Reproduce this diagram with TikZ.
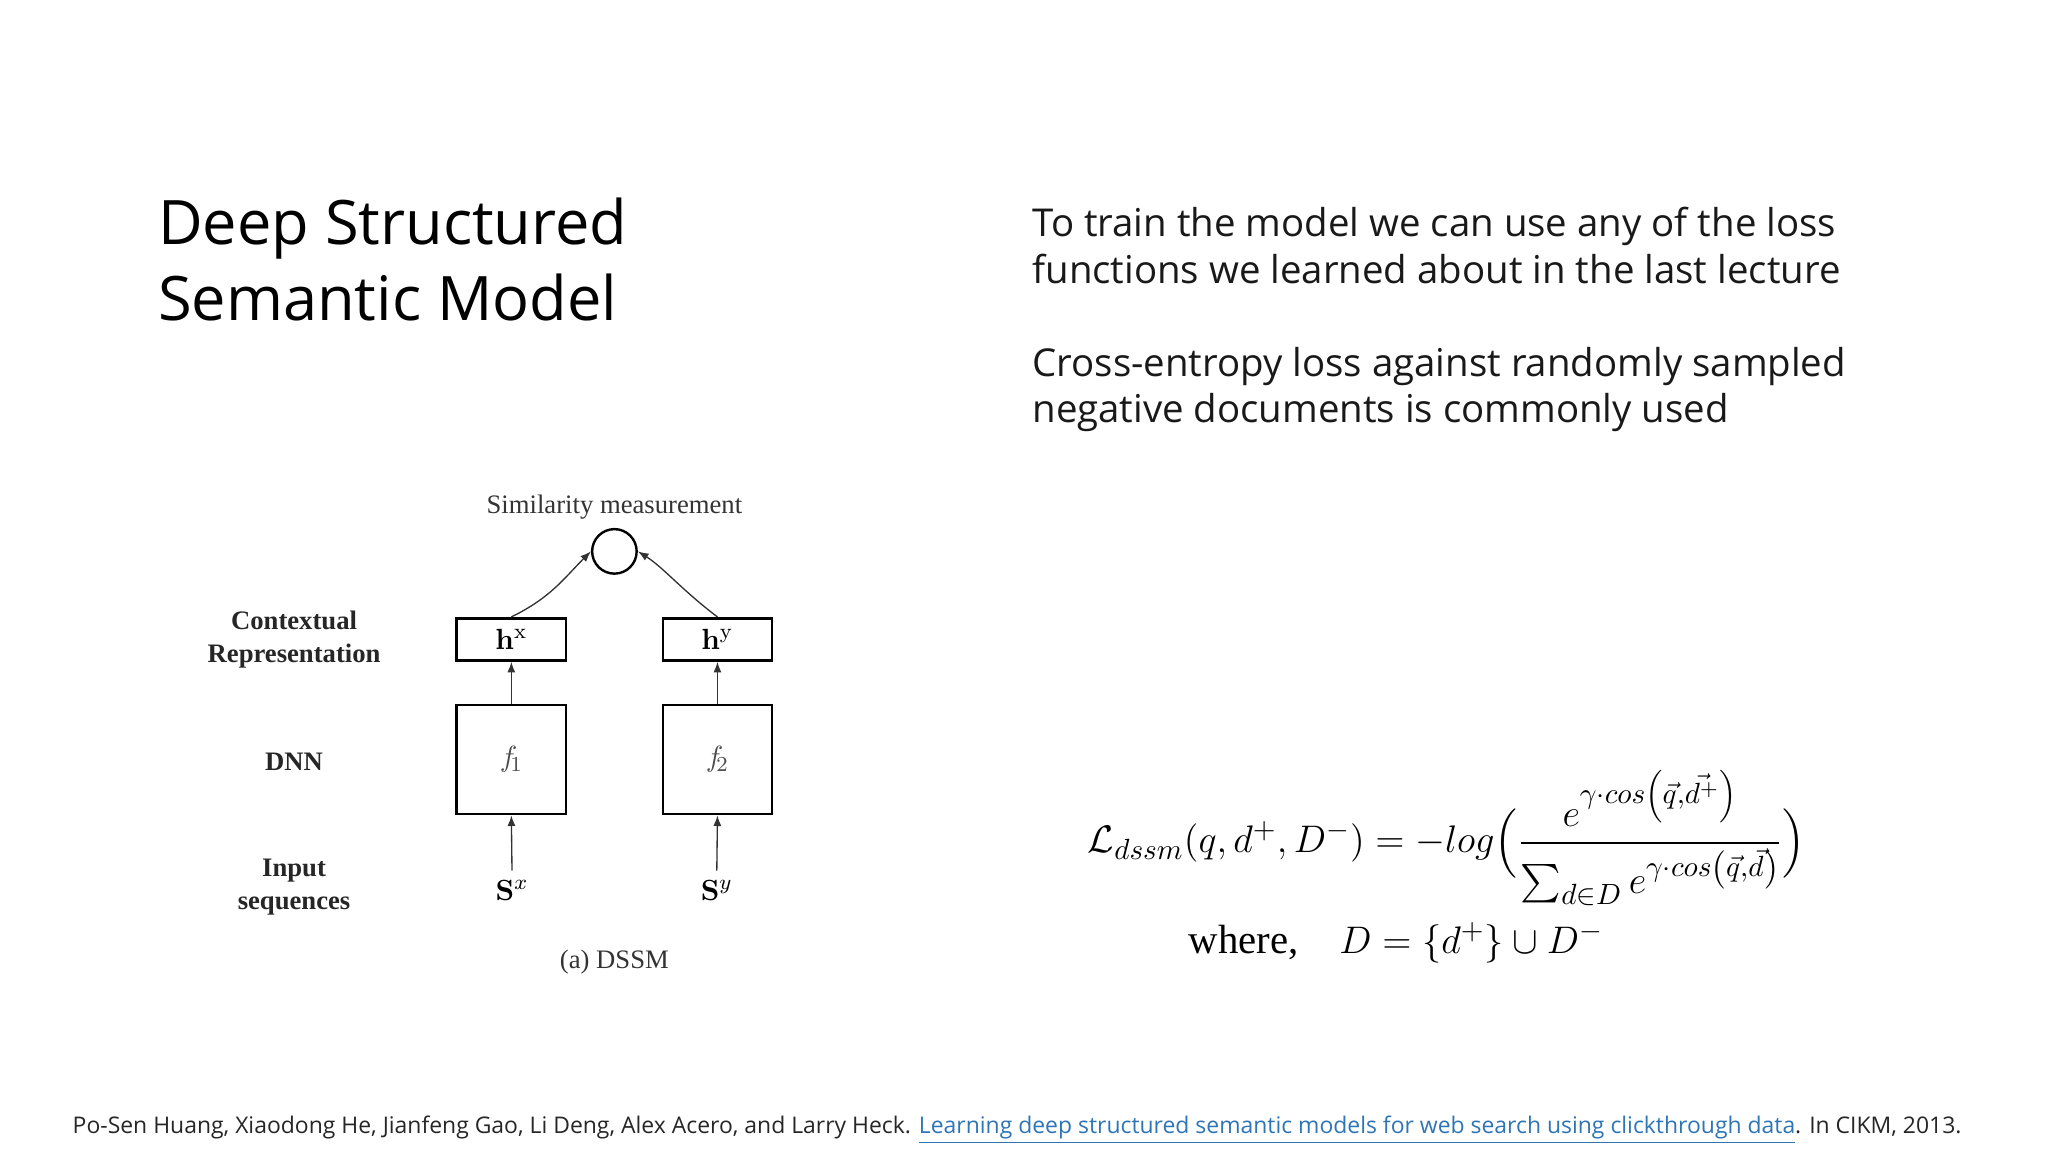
\documentclass[tikz,border=0pt]{standalone}
\usepackage{amsmath}
\usepackage[no-math]{fontspec}
\setmainfont{Open Sans}
\newfontfamily\tnr{Liberation Serif}
\usetikzlibrary{arrows.meta}
\definecolor{linkblue}{HTML}{2E75B6}
\tikzset{
  lbl/.style={font=\tnr\fontsize{10}{12.3}\selectfont\bfseries, align=center, text=black!85},
  box/.style={draw, line width=1pt, minimum width=40.9pt, inner sep=0pt},
  arr/.style={-{Latex[length=4pt,width=3pt]}, line width=0.5pt, black!80},
  body/.style={font=\fontsize{14.4}{17.3}\selectfont, anchor=west, align=left, text=black!90}
}
\begin{document}
\begin{tikzpicture}[x=0.4923pt,y=-0.4923pt]
\useasboundingbox (0,0) rectangle (1560,877.5);
% title
\node[anchor=north west, font=\fontsize{23}{28.5}\selectfont, align=left, inner sep=0pt] (title) at (120,150) {Deep Structured\\Semantic Model};
% right text
\node[body, inner sep=0pt] (t1) at (786,187) {To train the model we can use any of the loss\\functions we learned about in the last lecture};
\node[body, inner sep=0pt] (t2) at (786,297) {Cross-entropy loss against randomly sampled\\negative documents is commonly used};
% diagram
\node[font=\tnr\fontsize{10}{12}\selectfont, text=black!80] (sim) at (468,386) {Similarity measurement};
\node[draw, circle, minimum size=16.7pt, inner sep=0pt, line width=0.9pt] (c) at (468,420) {};
\node[box, minimum height=15.8pt, font=\fontsize{11}{12}\selectfont] (hx) at (389.5,487) {$\mathbf{h}^{\mathrm{x}}$};
\node[box, minimum height=15.8pt, font=\fontsize{11}{12}\selectfont] (hy) at (546.5,487) {$\mathbf{h}^{\mathrm{y}}$};
\node[box, minimum height=40.9pt, font=\fontsize{11}{12}\selectfont, text=black!70] (f1) at (389.5,578.5) {$f_{\!1}$};
\node[box, minimum height=40.9pt, font=\fontsize{11}{12}\selectfont, text=black!70] (f2) at (546.5,578.5) {$f_{\!2}$};
\node[font=\fontsize{11}{12}\selectfont] (sx) at (390,678) {$\mathbf{S}^{x}$};
\node[font=\fontsize{11}{12}\selectfont] (sy) at (546,678) {$\mathbf{S}^{y}$};
\draw[arr] (sx.north) -- (f1.south);
\draw[arr] (sy.north) -- (f2.south);
\draw[arr] (f1.north) -- (hx.south);
\draw[arr] (f2.north) -- (hy.south);
\draw[arr] (hx.north) .. controls (420,455) and (430,440) .. (c.west);
\draw[arr] (hy.north) .. controls (520,450) and (505,432) .. (c.east);
\node[lbl] (l1) at (224,487) {Contextual\\Representation};
\node[lbl] (l2) at (224,580) {DNN};
\node[lbl] (l3) at (224,676) {Input\\sequences};
\node[font=\tnr\fontsize{10}{12}\selectfont, text=black!80] (cap) at (468,733) {(a) DSSM};
% equation
\node[font=\fontsize{15.3}{18}\selectfont] (eq) at (1102,638) {$\mathcal{L}_{dssm}(q,d^{+},D^{-}) = -log\Bigl(\dfrac{e^{\gamma\cdot cos\left(\vec{q},\vec{d^{+}}\right)}}{\sum_{d\in D} e^{\gamma\cdot cos\left(\vec{q},\vec{d}\right)}}\Bigr)$};
\node[font=\fontsize{15.3}{18}\selectfont, anchor=west, inner sep=0pt] (wh) at (905,718) {{\tnr where,}\quad $D=\{d^{+}\}\cup D^{-}$};
% citation
\node[anchor=west, inner sep=0pt, font=\fontsize{8.6}{10}\selectfont, text=black!85] (cite) at (55,861) {Po-Sen Huang, Xiaodong He, Jianfeng Gao, Li Deng, Alex Acero, and Larry Heck. \textcolor{linkblue}{\underline{Learning deep structured semantic models for web search using clickthrough data}}. In CIKM, 2013.};
\end{tikzpicture}
\end{document}
